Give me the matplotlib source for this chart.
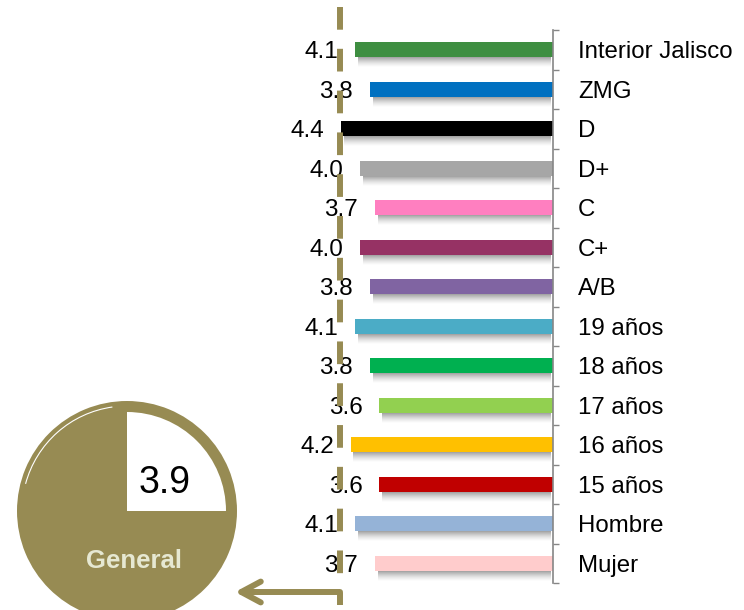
import matplotlib.pyplot as plt
import numpy as np
from matplotlib.patches import Arc

plt.rcParams['font.family'] = ['Liberation Sans', 'DejaVu Sans']

# data, top to bottom
categories = ['Interior Jalisco', 'ZMG', 'D', 'D+', 'C', 'C+', 'A/B',
              '19 años', '18 años', '17 años', '16 años', '15 años',
              'Hombre', 'Mujer']
values = [4.1, 3.8, 4.4, 4.0, 3.7, 4.0, 3.8, 4.1, 3.8, 3.6, 4.2, 3.6, 4.1, 3.7]
bar_colors = ['#3E8E41', '#0070C0', '#000000', '#A6A6A6', '#FF7FC0',
              '#963264', '#8064A2', '#4BACC6', '#00B050', '#92D050',
              '#FFC000', '#C00000', '#95B3D7', '#FFCCCC']
general_score = 3.9
general_label = 'General'
pie_fill = [0.25, 0.75]  # white part, filled part

olive = '#978B53'
W, H = 744, 610

fig = plt.figure(figsize=(W / 100, H / 100), dpi=100)

# bar chart: value 0 sits on the right spine, bars grow to the left
ax = fig.add_axes([280 / W, 27 / H, (553 - 280) / W, 553 / H])
y = np.arange(len(categories))
vals = np.array(values)

# soft shadow under each bar, drawn as fading strips
px = 1 / 39.5
for d in range(10):
    ax.barh(y + 0.19 + (d + 0.5) * px, vals - 0.1, height=px * 1.05,
            left=0.04, color='#2a2a2a', alpha=0.42 * (1 - d / 10) ** 1.5,
            linewidth=0, zorder=1)
ax.barh(y, values, height=0.38, color=bar_colors, linewidth=0, zorder=2)

for i, v in enumerate(values):
    ax.annotate(f'{v:.1f}', xy=(v, i), xytext=(-12, 0), textcoords='offset points',
                ha='right', va='center_baseline', fontsize=17.5, color='black')

ax.set_xlim(5.664, 0)
ax.set_ylim(len(categories) - 0.5, -0.5)
ax.set_xticks([])
ax.yaxis.tick_right()
ax.set_yticks(y)
ax.set_yticklabels(categories, fontsize=17.3)
ax.set_yticks(np.arange(-0.5, len(categories)), minor=True)
ax.tick_params(axis='y', which='major', length=0, pad=18)
ax.tick_params(axis='y', which='minor', length=4.5, width=1, color='#868686',
               direction='out')
for s in ['top', 'left', 'bottom']:
    ax.spines[s].set_visible(False)
ax.spines['right'].set_color('#868686')
ax.spines['right'].set_linewidth(1.2)

# overlay in pixel units (y up) for the general pie, dashed line and arrow
ov = fig.add_axes([0, 0, 1, 1])
ov.patch.set_alpha(0)

cx, cy = 127, H - 511
ov.pie([1], radius=110, center=(cx, cy), colors=[olive],
       wedgeprops=dict(linewidth=0), frame=True)
ov.pie(pie_fill, radius=99, center=(cx, cy), startangle=90, counterclock=False,
       colors=['white', olive], wedgeprops=dict(linewidth=0), frame=True)
ov.add_patch(Arc((cx, cy), 210, 210, theta1=98, theta2=165,
                 color='white', lw=0.8))
ov.set_xlim(0, W)
ov.set_ylim(0, H)
ov.set_aspect('equal')
ov.axis('off')
ov.text(165, H - 483, f'{general_score:.1f}', ha='center', va='center',
        fontsize=27, color='black')
ov.text(134, H - 561, general_label, ha='center', va='center', fontsize=18.5,
        fontweight='bold', color='#E6E8D2')

ov.plot([340, 340], [H - 7, H - 605], color=olive, lw=4.3,
        linestyle=(0, (3.8, 3.2)), solid_capstyle='butt')
ov.annotate('', xy=(235, 18), xytext=(340, 18),
            arrowprops=dict(arrowstyle='->,head_length=1.4,head_width=0.75',
                            lw=4.3, color=olive, capstyle='round',
                            shrinkA=0, shrinkB=0))

fig.savefig('out.png', dpi=100)
